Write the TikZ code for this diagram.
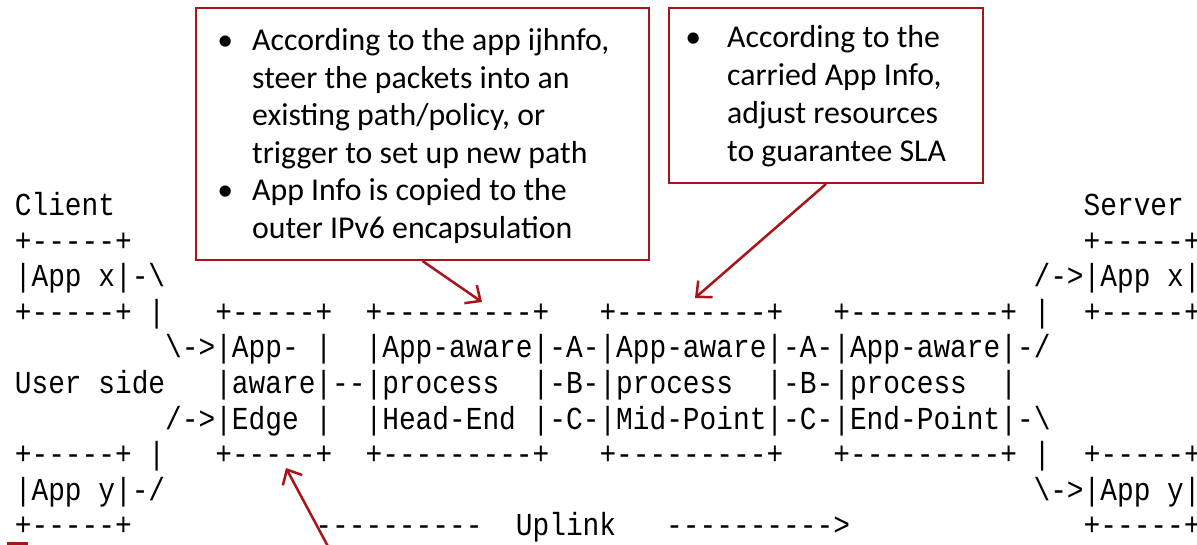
\documentclass[tikz,border=0pt]{standalone}
\usepackage{fontspec}
\setmainfont{Carlito}
\setmonofont[FakeStretch=0.87]{Liberation Mono}
\usetikzlibrary{arrows.meta}
\definecolor{callred}{RGB}{170,20,25}
\begin{document}
\begin{tikzpicture}[x=1pt,y=1pt,
  asc/.style={anchor=base west, inner sep=0pt, font=\ttfamily\fontsize{32}{32}\selectfont\frenchspacing, text=black},
  callout/.style={draw=callred, line width=2pt, inner sep=0pt, anchor=north west},
  txtA/.style={anchor=base west, inner sep=0pt, font=\fontsize{31.8}{37.6}\selectfont, align=left},
  txtB/.style={anchor=base west, inner sep=0pt, font=\fontsize{31.8}{38}\selectfont, align=left},
  link/.style={draw=callred, line width=2.5pt, -{Straight Barb[length=12pt,width=22pt]}}
]
\useasboundingbox (0,0) rectangle (1197,-545);
\def\xl{14.65}
\def\cw{16.7}
\def\yt{-215.5}
\def\ls{35.6}

% ASCII art
\node[asc] (l0a) at ({\xl},{\yt}) {Client};
\node[asc] (l0b) at ({\xl+64*\cw},{\yt}) {Server};
\node[asc] (l1a) at ({\xl},{\yt-1*\ls}) {+-----+};
\node[asc] (l1b) at ({\xl+64*\cw},{\yt-1*\ls}) {+-----+};
\node[asc] (l2a) at ({\xl},{\yt-2*\ls}) {|App~x|-\textbackslash};
\node[asc] (l2b) at ({\xl+61*\cw},{\yt-2*\ls}) {/->|App~x|};
\node[asc] (l3) at ({\xl},{\yt-3*\ls}) {+-----+~|~~~+-----+~~+---------+~~~+---------+~~~+---------+~|~~+-----+};
\node[asc] (l4) at ({\xl+9*\cw},{\yt-4*\ls}) {\textbackslash->|App-~|~~|App-aware|-A-|App-aware|-A-|App-aware|-/};
\node[asc] (l5a) at ({\xl},{\yt-5*\ls}) {User~side};
\node[asc] (l5b) at ({\xl+12*\cw},{\yt-5*\ls}) {|aware|--|process~~|-B-|process~~|-B-|process~~|};
\node[asc] (l6) at ({\xl+9*\cw},{\yt-6*\ls}) {/->|Edge~|~~|Head-End~|-C-|Mid-Point|-C-|End-Point|-\textbackslash};
\node[asc] (l7) at ({\xl},{\yt-7*\ls}) {+-----+~|~~~+-----+~~+---------+~~~+---------+~~~+---------+~|~~+-----+};
\node[asc] (l8a) at ({\xl},{\yt-8*\ls}) {|App~y|-/};
\node[asc] (l8b) at ({\xl+61*\cw},{\yt-8*\ls}) {\textbackslash->|App~y|};
\node[asc] (l9a) at ({\xl},{\yt-9*\ls}) {+-----+};
\node[asc] (l9b) at ({\xl+18*\cw},{\yt-9*\ls}) {----------~~Uplink~~~---------->};
\node[asc] (l9c) at ({\xl+64*\cw},{\yt-9*\ls}) {+-----+};

% callout boxes
\node[callout, minimum width=453pt, minimum height=252pt] (b1) at (195,-7) {};
\node[txtA] (b1t) at (252,-50.5) {\begin{tabular}[t]{@{}l@{}}%
\llap{\makebox[54pt][c]{\textbullet}}According to the app ijhnfo,\\
steer the packets into an\\
existing path/policy, or\\
trigger to set up new path\\
\llap{\makebox[54pt][c]{\textbullet}}App Info is copied to the\\
outer IPv6 encapsulation\end{tabular}};

\node[callout, minimum width=314pt, minimum height=175pt] (b2) at (668,-7) {};
\node[txtB] (b2t) at (727,-48) {\begin{tabular}[t]{@{}l@{}}%
\llap{\makebox[68pt][c]{\textbullet}}According to the\\
carried App Info,\\
adjust resources\\
to guarantee SLA\end{tabular}};

% connectors
\coordinate (t1) at (482,-302);
\coordinate (t2) at (695,-298);
\coordinate (t3) at (286,-468);
\coordinate (s3) at (331.5,-553);
\draw[link] (b1.south) -- (t1);
\draw[link] (b2.south) -- (t2);
\draw[link] (s3) -- (t3);

% cropped red mark at bottom left
\draw[callred, line width=2.5pt] (7,-543.5) -- (28,-543.5);
\end{tikzpicture}
\end{document}
